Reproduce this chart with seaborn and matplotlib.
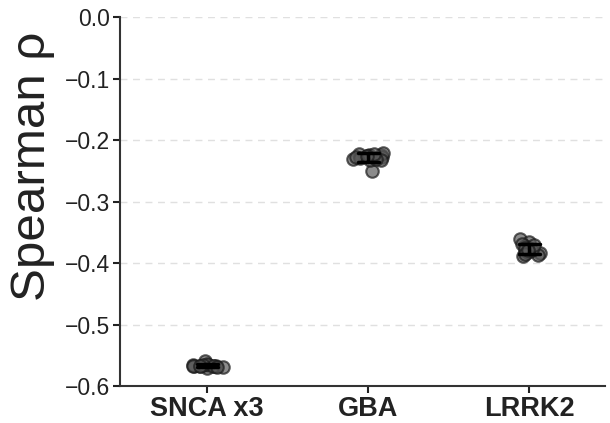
import numpy as np
import pandas as pd
import matplotlib
matplotlib.use("Agg")
import matplotlib.pyplot as plt
import seaborn as sns

# Spearman correlation per replicate, for each genotype
categories = ["SNCA x3", "GBA", "LRRK2"]
snca_rho = [-0.567, -0.568, -0.559, -0.567, -0.569, -0.566, -0.570, -0.566,
            -0.568, -0.565, -0.567, -0.569, -0.566, -0.568, -0.567]
gba_rho = [-0.224, -0.222, -0.226, -0.228, -0.231, -0.250, -0.221, -0.229,
           -0.233, -0.232, -0.227, -0.225, -0.230, -0.223, -0.226]
lrrk2_rho = [-0.361, -0.366, -0.372, -0.375, -0.380, -0.384, -0.387, -0.388,
             -0.378, -0.369, -0.382, -0.376, -0.371, -0.385, -0.379]
y_ticks = [0.0, -0.1, -0.2, -0.3, -0.4, -0.5, -0.6]

df = pd.DataFrame({
    "group": [categories[0]] * len(snca_rho) + [categories[1]] * len(gba_rho)
             + [categories[2]] * len(lrrk2_rho),
    "rho": snca_rho + gba_rho + lrrk2_rho,
})

sns.set_theme(style="ticks")
plt.rcParams["font.family"] = ["Liberation Sans", "DejaVu Sans"]

fig = plt.figure(figsize=(6.1, 4.23), dpi=100)
ax = fig.add_axes([0.197, 0.0875, 0.795, 0.872])

for t in y_ticks:
    ax.axhline(t, color="#e0e0e0", linestyle=(0, (5, 4)), linewidth=1.0, zorder=0)

np.random.seed(7)
sns.stripplot(data=df, x="group", y="rho", order=categories, jitter=0.1,
              size=9, color="#5a5a5a", edgecolor="#1a1a1a", linewidth=1.5,
              alpha=0.7, ax=ax, zorder=2)
sns.pointplot(data=df, x="group", y="rho", order=categories, errorbar="sd",
              linestyle="none", marker="", capsize=0.13, color="black",
              err_kws={"linewidth": 2.5}, ax=ax, zorder=3)

ax.set_xlim(-0.54, 2.47)
ax.set_ylim(-0.6, 0.0)
ax.set_yticks(y_ticks)
ax.set_yticklabels([f"{t:.1f}".replace("-", "\u2212") for t in y_ticks])
ax.set_xlabel("")
ax.set_ylabel("Spearman \u03c1", fontsize=35.5, color="#222222")
ax.yaxis.set_label_coords(-0.134, 0.595)
ax.tick_params(axis="y", labelsize=16.5, colors="#222222", length=5, width=1.5, pad=2)
ax.tick_params(axis="x", labelsize=19.5, colors="#222222", length=5, width=1.5, pad=2)
for lbl in ax.get_xticklabels():
    lbl.set_fontweight("bold")

sns.despine(ax=ax)
for s in ("left", "bottom"):
    ax.spines[s].set_color("#333333")
    ax.spines[s].set_linewidth(1.5)

fig.savefig("out.png", dpi=100)
